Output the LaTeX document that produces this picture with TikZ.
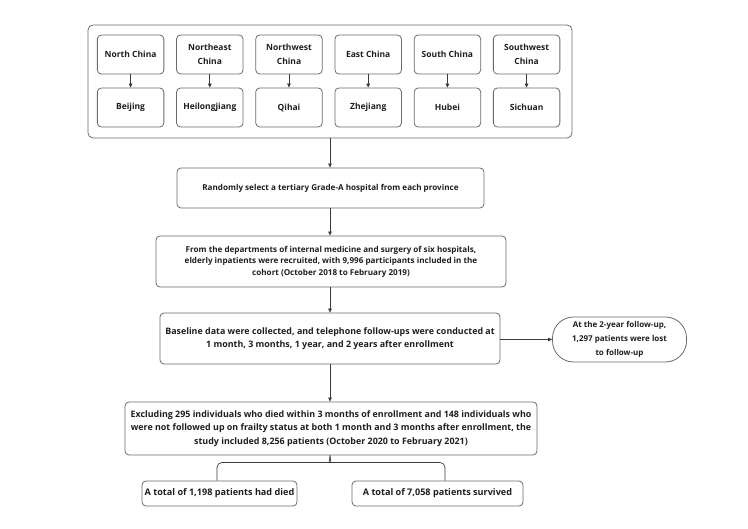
\documentclass[tikz,border=0pt]{standalone}
\usepackage{fontspec}
\setmainfont{Open Sans}
\usetikzlibrary{arrows.meta}
\definecolor{bordergray}{HTML}{6A6A6A}
\definecolor{textc}{HTML}{1E1E1E}
\definecolor{linec}{HTML}{3A3A3A}
\begin{document}
\begin{tikzpicture}[x=1pt,y=1pt,
  box/.style={draw=bordergray, line width=0.8pt, rounded corners=4pt, align=center,
    font=\fontsize{8.1}{11.6}\selectfont\bfseries, text=textc, inner sep=0pt},
  bigbox/.style={box, font=\fontsize{8.9}{13.3}\selectfont\bfseries},
  small/.style={box, minimum width=66.5pt, minimum height=39pt, font=\fontsize{8.5}{13.7}\selectfont\bfseries},
  stadium/.style={box, rounded corners=21pt, font=\fontsize{8}{14.2}\selectfont\bfseries},
  outerbox/.style={draw=bordergray, line width=0.8pt, rounded corners=5pt},
  arr/.style={draw=linec, line width=0.7pt, -{Triangle[length=4pt,width=3.6pt]}},
  conn/.style={draw=linec, line width=0.7pt}
]
\useasboundingbox (0,0) rectangle (748,-529);
% outer frame
\node[outerbox, minimum width=484pt, minimum height=113pt, inner sep=0pt] (frame) at (330,-81.5) {};
% region boxes
\foreach \i/\r/\p in {0/North China/Beijing, 1/Northeast\\China/Heilongjiang, 2/Northwest\\China/Qihai, 3/East China/Zhejiang, 4/South China/Hubei, 5/Southwest\\China/Sichuan}{
  \node[small] (r\i) at ({130.6+79.2*\i},-54.5) {\r};
  \node[small] (p\i) at ({130.6+79.2*\i},-107.5) {\p};
  \draw[arr] (r\i) -- (p\i);
}
\coordinate (cx) at (330,0);
\node[box, minimum width=307pt, minimum height=40pt] (b2) at (330.5,-188) {Randomly select a tertiary Grade-A hospital from each province};
\node[box, minimum width=350pt, minimum height=51pt] (b3) at (331,-261.5) {From the departments of internal medicine and surgery of six hospitals,\\elderly inpatients were recruited, with 9,996 participants included in the\\cohort (October 2018 to February 2019)};
\node[bigbox, minimum width=340pt, minimum height=51pt] (b4) at (330,-338.5) {Baseline data were collected, and telephone follow-ups were conducted at\\1 month, 3 months, 1 year, and 2 years after enrollment};
\node[stadium, minimum width=134pt, minimum height=45pt] (side) at (619.5,-339.5) {At the 2-year follow-up,\\1,297 patients were lost\\to follow-up};
\node[bigbox, minimum width=412pt, minimum height=53pt] (b5) at (331,-428.5) {Excluding 295 individuals who died within 3 months of enrollment and 148 individuals who\\were not followed up on frailty status at both 1 month and 3 months after enrollment, the\\study included 8,256 patients (October 2020 to February 2021)};
\node[bigbox, font=\fontsize{9.1}{11}\selectfont\bfseries, minimum width=155pt, minimum height=25pt] (dl) at (219.5,-493.5) {A total of 1,198 patients had died};
\node[bigbox, font=\fontsize{9.1}{11}\selectfont\bfseries, minimum width=171pt, minimum height=25pt] (dr) at (437.5,-493.5) {A total of 7,058 patients survived};
% connectors
\draw[arr] (frame.south -| cx) -- (b2.north -| cx);
\draw[arr] (b2.south -| cx) -- (b3.north -| cx);
\draw[arr] (b3.south -| cx) -- (b4.north -| cx);
\draw[arr] (b4.east |- side.west) -- (side.west);
\draw[arr] (b4.south -| cx) -- (b5.north -| cx);
\coordinate (lx) at (217,0);
\coordinate (rx) at (445,0);
\draw[conn] (dl.north -| lx) [rounded corners=5pt] |- (325,-462.5) [sharp corners] .. controls (328,-462.5) and (330,-460) .. (b5.south -| cx);
\draw[conn] (dr.north -| rx) [rounded corners=5pt] |- (335,-462.5) [sharp corners] .. controls (332,-462.5) and (330,-460) .. (b5.south -| cx);
\end{tikzpicture}
\end{document}
